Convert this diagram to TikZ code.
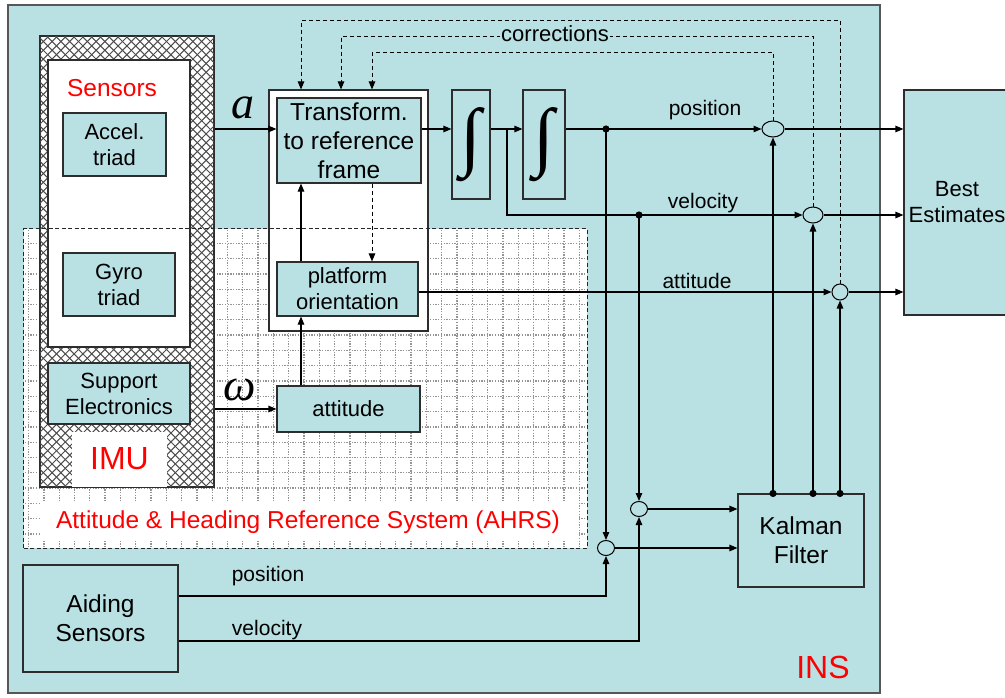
\documentclass[tikz,border=0pt]{standalone}
\usepackage{fontspec}
\setmainfont{Liberation Sans}
\newfontfamily\serifit{Liberation Serif}
\usetikzlibrary{arrows.meta,shapes.geometric}
\definecolor{insblue}{RGB}{185,224,227}
\definecolor{bord}{RGB}{45,45,45}
\begin{document}
\begin{tikzpicture}[x=1pt,y=-1pt,
  box/.style={draw=bord,line width=1.1pt,fill=insblue,inner sep=0pt,align=center,font=\fontsize{22}{26}\selectfont},
  bigbox/.style={box,font=\fontsize{24.5}{29}\selectfont},
  wbox/.style={draw=bord,line width=1.1pt,fill=white,inner sep=0pt},
  arr/.style={-{Triangle[length=8pt,width=6.5pt]},line width=1.1pt},
  darr/.style={-{Triangle[length=8pt,width=6.5pt]},line width=1pt,dash pattern=on 4pt off 3pt},
  jn/.style={ellipse,draw=black,line width=1pt,fill=insblue,inner sep=0pt},
  lbl/.style={font=\fontsize{21}{24}\selectfont,inner sep=1pt},
  redt/.style={text=red,inner sep=0pt},
  gridl/.style={draw=black!42,line width=1.3pt,dash pattern=on 1.3pt off 1.4pt},
  hatchl/.style={draw=black!70,line width=1pt}
]
\useasboundingbox (0,0) rectangle (1005,697);
% INS background
\node[draw=bord!80,line width=1.5pt,fill=insblue,minimum width=872pt,minimum height=688pt,inner sep=0pt] (ins) at (444,349) {};
% AHRS area
\node[fill=white,minimum width=563pt,minimum height=319pt,inner sep=0pt] (ahrs) at (305.5,388.5) {};
\foreach \i in {0,...,36} {\draw[gridl] ({28.6+15.3*\i},230) -- ({28.6+15.3*\i},547);}
\foreach \j in {0,...,19} {\draw[gridl] (25,{243.3+15.3*\j}) -- (586,{243.3+15.3*\j});}
\fill[white] (40,502) rectangle (578,541);
% IMU
\node[wbox,minimum width=174pt,minimum height=451pt] (imu) at (127,261.5) {};
\begin{scope}
\clip (imu.south west) rectangle (imu.north east);
\foreach \k in {0,...,72} {
  \draw[hatchl] ({-411+8.8*\k},36) -- ({40+8.8*\k},487);
  \draw[hatchl] ({40+8.8*\k},36) -- ({-411+8.8*\k},487);
}
\end{scope}
\draw[bord,line width=1.1pt] (imu.south west) rectangle (imu.north east);
\node[wbox,minimum width=142pt,minimum height=287pt] (sens) at (119,203.5) {};
\node[redt,font=\fontsize{24.5}{29}\selectfont] (senst) at (112,88) {Sensors};
\node[box,minimum width=103pt,minimum height=63pt] (accel) at (114.5,144.5) {Accel.\\triad};
\node[box,minimum width=112pt,minimum height=63pt] (gyro) at (119,284.5) {Gyro\\triad};
\node[box,minimum width=142pt,minimum height=61pt] (supp) at (119,393.5) {Support\\Electronics};
\node[fill=white,minimum width=95pt,minimum height=55pt,inner sep=0pt] (imul) at (119.5,459) {};
\node[redt,font=\fontsize{32}{36}\selectfont] (imut) at (119.5,459) {IMU};
\node[redt,font=\fontsize{24.5}{29}\selectfont] (ahrst) at (308,522) {Attitude \& Heading Reference System (AHRS)};
% transform block
\node[wbox,minimum width=159pt,minimum height=241pt] (tbox) at (348.5,210.5) {};
\node[bigbox,minimum width=144pt,minimum height=85pt] (trans) at (349,140.5) {Transform.\\to reference\\frame};
\node[box,minimum width=141pt,minimum height=54pt] (plat) at (347.5,289) {platform\\orientation};
\node[box,minimum width=143pt,minimum height=46pt] (att) at (348.5,409) {attitude};
% AHRS border on top
\draw[line width=1.2pt,dash pattern=on 4pt off 2.5pt,black!85] (ahrs.south west) rectangle (ahrs.north east);
% integrators
\node[box,minimum width=38pt,minimum height=109pt] (int1) at (471,144.5) {};
\node[inner sep=0pt] (int1s) at (int1) {\resizebox{!}{54pt}{\serifit ∫}};
\node[box,minimum width=42pt,minimum height=109pt] (int2) at (544,144.5) {};
\node[inner sep=0pt] (int2s) at (int2) {\resizebox{!}{54pt}{\serifit ∫}};
% right side
\node[box,minimum width=106pt,minimum height=225pt] (best) at (957,202.5) {Best\\Estimates};
\node[bigbox,minimum width=126pt,minimum height=93pt] (kal) at (801,540.5) {Kalman\\Filter};
\node[bigbox,minimum width=155pt,minimum height=107pt] (aid) at (100.5,618.5) {Aiding\\Sensors};
\node[redt,font=\fontsize{32}{36}\selectfont] (inst) at (823,667) {INS};
% junctions
\node[jn,minimum width=22pt,minimum height=16pt] (e1) at (773,129) {};
\node[jn,minimum width=20pt,minimum height=16pt] (e2) at (813,215) {};
\node[jn,minimum width=16pt,minimum height=16pt] (e3) at (840,292) {};
\node[jn,minimum width=17pt,minimum height=15pt] (c4) at (639,509) {};
\node[jn,minimum width=17pt,minimum height=15pt] (c5) at (606,548) {};
% helper coordinates
\coordinate (rP) at (0,129);
\coordinate (br) at (507,129);
\coordinate (dP) at (606,129);
\coordinate (dV) at (639,215);
\coordinate (x301) at (301,0);
\coordinate (x372) at (372,0);
\coordinate (k1) at (372,52);
\coordinate (k2) at (341,36);
\coordinate (k3) at (301,20);
\coordinate (yAP) at (0,596);
\coordinate (yAV) at (0,641);
% signal flow
\draw[arr] (imu.east |- rP) -- (trans.west |- rP);
\node[font=\serifit\itshape\fontsize{46}{46}\selectfont,inner sep=0pt] (alab) at (243,108) {a};
\draw[arr] (imu.east |- att) -- (att.west);
\node[font=\serifit\itshape\fontsize{46}{46}\selectfont,inner sep=0pt] (wlab) at (240,390) {ω};
\draw[arr] (trans.east |- rP) -- (int1.west |- rP);
\draw[arr] (int1.east |- rP) -- (int2.west |- rP);
\draw[arr] (br) |- (e2.west);
\draw[arr] (int2.east |- rP) -- (e1.west);
\draw[arr] (dP) -- (c5.north);
\draw[arr] (dV) -- (c4.north);
\fill (dP) circle (3.6pt);
\fill (dV) circle (3.6pt);
\draw[arr] (plat.east |- e3) -- (e3.west);
\draw[arr] (att.north -| x301) -- (plat.south -| x301);
\draw[arr] (plat.north -| x301) -- (trans.south -| x301);
\draw[darr] (trans.south -| x372) -- (plat.north -| x372);
\draw[arr] (e1.east) -- (best.west |- e1);
\draw[arr] (e2.east) -- (best.west |- e2);
\draw[arr] (e3.east) -- (best.west |- e3);
\draw[arr] (c4.east) -- (kal.west |- c4);
\draw[arr] (c5.east) -- (kal.west |- c5);
\draw[arr] (aid.east |- yAP) -| (c5.south);
\draw[arr] (aid.east |- yAV) -| (c4.south);
\draw[arr] (kal.north -| e1) -- (e1.south);
\draw[arr] (kal.north -| e2) -- (e2.south);
\draw[arr] (kal.north -| e3) -- (e3.south);
\fill (kal.north -| e1) circle (3.6pt);
\fill (kal.north -| e2) circle (3.6pt);
\fill (kal.north -| e3) circle (3.6pt);
% corrections
\draw[darr] (e1.north) |- (k1) -- (k1 |- tbox.north);
\draw[darr] (e2.north) |- (k2) -- (k2 |- tbox.north);
\draw[darr] (e3.north) |- (k3) -- (k3 |- tbox.north);
\node[lbl,fill=insblue,font=\fontsize{22}{24}\selectfont] (corr) at (555,34) {corrections};
% labels
\node[lbl] (lp) at (705,110) {position};
\node[lbl] (lv) at (703,203) {velocity};
\node[lbl] (la) at (697,281) {attitude};
\node[lbl] (lp2) at (268,576) {position};
\node[lbl] (lv2) at (267,630) {velocity};
\end{tikzpicture}
\end{document}
